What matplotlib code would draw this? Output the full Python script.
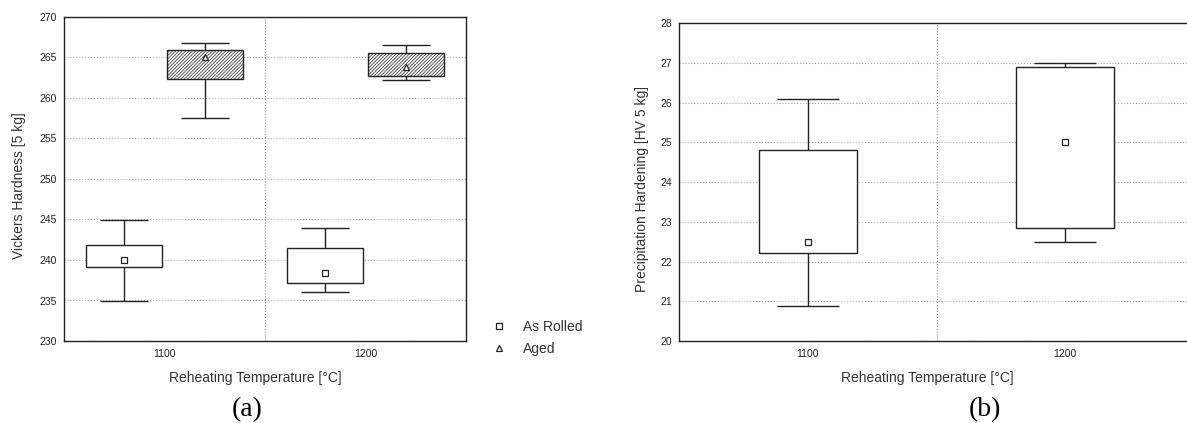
import matplotlib.pyplot as plt
import numpy as np

# Reheating temperatures (categories)
temps = ['1100', '1200']

# (a) Vickers hardness - As Rolled
rolled_mean = [240.0, 238.4]
rolled_box_lo = [239.1, 237.1]
rolled_box_hi = [241.9, 241.5]
rolled_min = [234.9, 236.0]
rolled_max = [244.9, 243.9]

# (a) Vickers hardness - Aged
aged_mean = [265.0, 263.8]
aged_box_lo = [262.3, 262.7]
aged_box_hi = [265.9, 265.6]
aged_min = [257.5, 262.2]
aged_max = [266.8, 266.5]

# (b) Precipitation hardening
ph_mean = [22.49, 25.0]
ph_box_lo = [22.21, 22.85]
ph_box_hi = [24.80, 26.91]
ph_min = [20.88, 22.49]
ph_max = [26.10, 26.99]

plt.rcParams['font.family'] = ['Liberation Sans', 'DejaVu Sans']
plt.rcParams['hatch.linewidth'] = 0.6

line_c = '#222222'
grid_c = '#aaaaaa'
box_w = 0.38
cap_w = 0.24


def draw_boxes(ax, x, lo, hi, vmin, vmax, mean, marker, hatch=None):
    x = np.asarray(x)
    lo = np.asarray(lo)
    hi = np.asarray(hi)
    if hatch:
        ax.bar(x, hi - lo, bottom=lo, width=box_w, color='white',
               edgecolor='#444444', hatch=hatch, linewidth=0, zorder=3)
    else:
        ax.bar(x, hi - lo, bottom=lo, width=box_w, color='white',
               linewidth=0, zorder=3)
    ax.bar(x, hi - lo, bottom=lo, width=box_w, fill=False,
           edgecolor=line_c, linewidth=1.0, zorder=4)
    ax.vlines(x, vmin, lo, color=line_c, lw=1.0, zorder=2)
    ax.vlines(x, hi, vmax, color=line_c, lw=1.0, zorder=2)
    ax.hlines(vmin, x - cap_w / 2, x + cap_w / 2, color=line_c, lw=1.0, zorder=2)
    ax.hlines(vmax, x - cap_w / 2, x + cap_w / 2, color=line_c, lw=1.0, zorder=2)
    h, = ax.plot(x, mean, linestyle='none', marker=marker, markersize=4.5,
                 markerfacecolor='white', markeredgecolor=line_c,
                 markeredgewidth=0.9, zorder=5)
    return h


def style_axes(ax, ymin, ymax, ystep):
    ax.set_xlim(-0.5, 1.5)
    ax.set_ylim(ymin, ymax)
    ax.set_yticks(np.arange(ymin, ymax + ystep / 2, ystep))
    ax.set_xticks(range(len(temps)))
    ax.set_xticklabels(temps)
    ax.tick_params(length=0, labelsize=7.5, colors='#222222')
    ax.tick_params(axis='y', pad=5)
    ax.tick_params(axis='x', pad=6)
    ax.grid(axis='y', linestyle=':', color=grid_c, lw=0.8, zorder=0)
    ax.axvline(0.5, linestyle=':', color='#888888', lw=0.8, zorder=0)
    for sp in ax.spines.values():
        sp.set_color(line_c)
        sp.set_linewidth(1.0)


fig = plt.figure(figsize=(11.87, 4.23), dpi=100)

# (a)
ax1 = fig.add_axes([64 / 1187, 82 / 423, 402 / 1187, 324 / 423])
pos = np.arange(len(temps))
h_rolled = draw_boxes(ax1, pos - 0.2, rolled_box_lo, rolled_box_hi,
                      rolled_min, rolled_max, rolled_mean, 's')
h_aged = draw_boxes(ax1, pos + 0.2, aged_box_lo, aged_box_hi,
                    aged_min, aged_max, aged_mean, '^', hatch='//////////')
style_axes(ax1, 230, 270, 5)
ax1.set_xlabel('Reheating Temperature [°C]', fontsize=10, color='#333333')
ax1.set_ylabel('Vickers Hardness [5 kg]', fontsize=10, color='#333333')
ax1.xaxis.set_label_coords(0.475, -0.093)
ax1.yaxis.set_label_coords(-0.0945, 0.48)

fig.legend([h_rolled, h_aged], ['As Rolled', 'Aged'], loc='center left',
           bbox_to_anchor=(492 / 1187, 1 - 338 / 423), frameon=False,
           fontsize=10, handlelength=1.0, handletextpad=1.2,
           labelspacing=0.6, borderpad=0, borderaxespad=0,
           labelcolor='#333333')

# (b)
ax2 = fig.add_axes([679 / 1187, 82 / 423, 515 / 1187, 317.7 / 423])
draw_boxes(ax2, pos, ph_box_lo, ph_box_hi, ph_min, ph_max, ph_mean, 's')
style_axes(ax2, 20, 28, 1)
ax2.set_xlabel('Reheating Temperature [°C]', fontsize=10, color='#333333')
ax2.set_ylabel('Precipitation Hardening [HV 5 kg]', fontsize=10, color='#333333')
ax2.xaxis.set_label_coords(0.483, -0.0944)
ax2.yaxis.set_label_coords(-0.058, 0.477)

fig.text(247.5 / 1187, 1 / 423, '(a)', family='Liberation Serif', fontsize=20,
         ha='center', va='bottom')
fig.text(985 / 1187, 1 / 423, '(b)', family='Liberation Serif', fontsize=20,
         ha='center', va='bottom')

fig.savefig('out.png', dpi=100)
